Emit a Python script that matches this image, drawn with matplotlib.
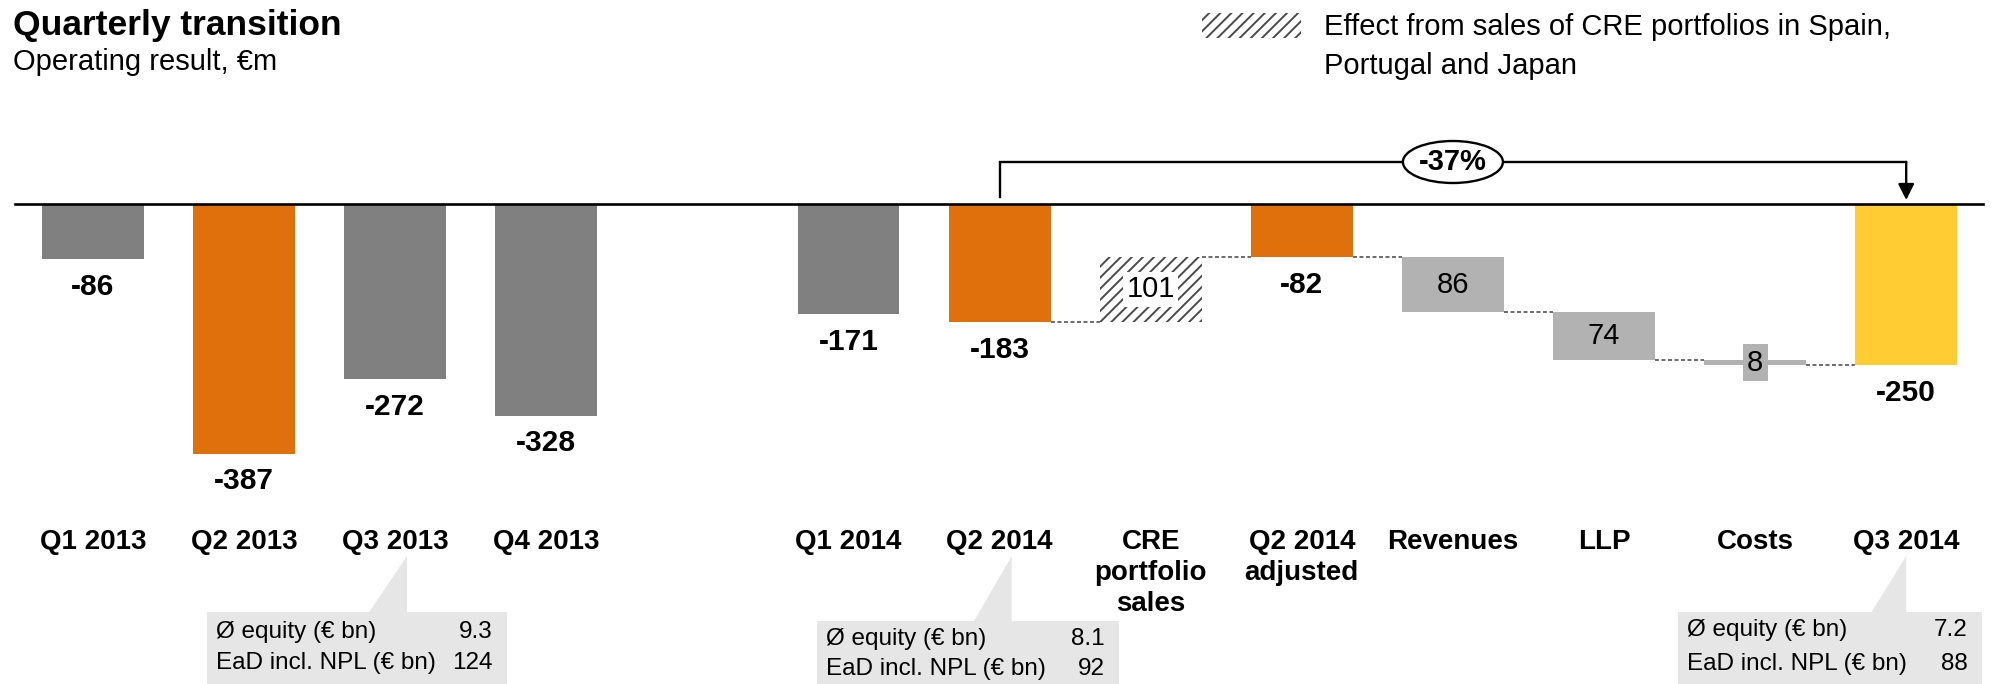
import matplotlib
matplotlib.use("Agg")
import matplotlib.pyplot as plt
from matplotlib.patches import Rectangle, Polygon, Ellipse

plt.rcParams['font.family'] = ['Liberation Sans', 'DejaVu Sans']
plt.rcParams['hatch.linewidth'] = 1.4

# ---------------- data ----------------
quarters = ["Q1 2013", "Q2 2013", "Q3 2013", "Q4 2013", "Q1 2014", "Q2 2014"]
quarter_results = [-86, -387, -272, -328, -171, -183]
cre_label = "CRE\nportfolio\nsales"
cre_effect = 101
adjusted_label = "Q2 2014\nadjusted"
step_labels = ["Revenues", "LLP", "Costs"]
step_changes = [-86, -74, -8]
final_label = "Q3 2014"
change_label = "-37%"
info_anchor = ["Q3 2013", "Q2 2014", "Q3 2014"]
info_equity = [9.3, 8.1, 7.2]
info_ead = [124, 92, 88]
legend_text = ["Effect from sales of CRE portfolios in Spain,", "Portugal and Japan"]

# ---------------- colours / layout ----------------
GRAY = "#808080"
ORANGE = "#E0700B"
YELLOW = "#FFCC33"
LGRAY = "#B2B2B2"
BOXGRAY = "#E6E6E6"
HATCH_EC = "#4A4A4A"
quarter_colors = [GRAY, ORANGE, GRAY, GRAY, GRAY, ORANGE]

W, H = 1996, 684
fig = plt.figure(figsize=(W / 100, H / 100), dpi=100)
ax = fig.add_axes([0, 0, 1, 1])
ax.axis("off")

X0, DX, Y0, SY = 93.0, 151.1, 204.0, 0.645
ax.set_xlim(-X0 / DX, (W - X0) / DX)
ax.set_ylim(-(H - Y0) / SY, Y0 / SY)


def px(p):
    return (p - X0) / DX


def py(p):
    return (Y0 - p) / SY


BW = 0.675
all_labels = quarters + [cre_label, adjusted_label] + step_labels + [final_label]
positions = [0, 1, 2, 3, 5, 6, 7, 8, 9, 10, 11, 12]
pos_of = dict(zip(all_labels, positions))

LBL_OFF = 43  # gap below bar end for value labels (data units)

# quarterly bars
qpos = [pos_of[q] for q in quarters]
ax.bar(qpos, quarter_results, width=BW, color=quarter_colors, linewidth=0, zorder=2)
for x, v in zip(qpos, quarter_results):
    ax.text(x, v - LBL_OFF, f"{v}", ha="center", va="center", fontsize=21.5,
            fontweight="bold", zorder=5)

# CRE portfolio sales (hatched floating bar)
start = quarter_results[-1]
xc = pos_of[cre_label]
ax.bar(xc, cre_effect, bottom=start, width=BW, color="white", edgecolor=HATCH_EC,
       hatch="///", linewidth=0, zorder=2)
ax.text(xc, start + cre_effect / 2, f"{cre_effect}", ha="center", va="center",
        fontsize=21, zorder=5,
        bbox=dict(boxstyle="square,pad=0.12", fc="white", ec="none"))
adjusted = start + cre_effect

# Q2 2014 adjusted
xa = pos_of[adjusted_label]
ax.bar(xa, adjusted, width=BW, color=ORANGE, linewidth=0, zorder=2)
ax.text(xa, adjusted - LBL_OFF, f"{adjusted}", ha="center", va="center", fontsize=21.5,
        fontweight="bold", zorder=5)

# bridge steps
running = adjusted
levels = [(qpos[-1], xc, start), (xc, xa, adjusted), (xa, pos_of[step_labels[0]], adjusted)]
for lbl, ch in zip(step_labels, step_changes):
    x = pos_of[lbl]
    ax.bar(x, ch, bottom=running, width=BW, color=LGRAY, linewidth=0, zorder=2)
    mid = running + ch / 2
    if lbl == "Costs":
        ax.text(x, mid, f"{abs(ch)}", ha="center", va="center", fontsize=21, zorder=5,
                bbox=dict(boxstyle="square,pad=0.15", fc=LGRAY, ec="none"))
    else:
        ax.text(x, mid, f"{abs(ch)}", ha="center", va="center", fontsize=21, zorder=5)
    running += ch
    nxt = all_labels[all_labels.index(lbl) + 1]
    levels.append((x, pos_of[nxt], running))

final = running
xf = pos_of[final_label]
ax.bar(xf, final, width=BW, color=YELLOW, linewidth=0, zorder=2)
ax.text(xf, final - LBL_OFF, f"{final}", ha="center", va="center", fontsize=21.5,
        fontweight="bold", zorder=5)

# dashed connectors
for a, b, lvl in levels:
    ax.plot([a + BW / 2, b - BW / 2], [lvl, lvl], color="#606060", lw=1.3,
            ls=(0, (2.2, 1.4)), zorder=1)

# baseline
ax.plot([px(15), px(1983)], [0, 0], color="black", lw=1.9, zorder=4)

# category labels
for lbl, x in zip(all_labels, positions):
    ax.text(x, py(529), lbl, ha="center", va="top", fontsize=20, fontweight="bold",
            linespacing=1.25)

# bracket with -37%
y_br = py(162)
y_end = py(197)
xl, xr = pos_of[quarters[-1]], pos_of[final_label]
ax.plot([xl, xl, xr], [y_end, y_br, y_br], color="black", lw=1.7, zorder=3,
        solid_joinstyle="miter")
ax.annotate("", xy=(xr, py(200)), xytext=(xr, y_br),
            arrowprops=dict(arrowstyle="-|>", color="black", lw=1.7,
                            mutation_scale=24, shrinkA=0, shrinkB=0), zorder=3)
xm = (xl + xr) / 2
ax.add_patch(Ellipse((xm, y_br), 100 / DX, 42 / SY, fc="white", ec="black", lw=1.7,
                     zorder=4))
ax.text(xm, y_br, change_label, ha="center", va="center", fontsize=21,
        fontweight="bold", zorder=5)

# info boxes (layout per box: left, right offsets, top px, pointer x, pointer base-left, row offsets)
box_layout = [(-1.246, 0.74, 612, 0.078, -0.173, 20, 51),
              (-1.21, 0.79, 621, 0.08, -0.17, 18, 48),
              (-1.51, 0.50, 612, 0.0, -0.23, 18, 52)]
y_bottom = py(H + 5)
for anc, eq, ead, (lo, ro, top, pt, pb, d1, d2) in zip(info_anchor, info_equity, info_ead,
                                                      box_layout):
    c = pos_of[anc]
    left, right = c + lo, c + ro
    ax.add_patch(Rectangle((left, y_bottom), right - left, py(top) - y_bottom,
                           fc=BOXGRAY, ec="none", zorder=1))
    ax.add_patch(Polygon([(c + pb, py(top) - 0.5), (c + pt, py(556)), (c + pt, py(top) - 0.5)],
                         closed=True, fc=BOXGRAY, ec="none", zorder=1))
    r1, r2 = py(top + d1), py(top + d2)
    ax.text(left + 9 / DX, r1, "Ø equity (€ bn)", ha="left", va="center", fontsize=17.5)
    ax.text(left + 9 / DX, r2, "EaD incl. NPL (€ bn)", ha="left", va="center", fontsize=17.5)
    ax.text(right - 14 / DX, r1, f"{eq}", ha="right", va="center", fontsize=17.5)
    ax.text(right - 14 / DX, r2, f"{ead}", ha="right", va="center", fontsize=17.5)

# legend
ax.add_patch(Rectangle((px(1202), py(38)), px(1301) - px(1202), py(13) - py(38),
                       fc="white", ec=HATCH_EC, hatch="///", lw=0, zorder=2))
ax.text(px(1324), py(27), legend_text[0], ha="left", va="center", fontsize=21)
ax.text(px(1324), py(66), legend_text[1], ha="left", va="center", fontsize=21)

# title
fig.text(13 / W, 1 - 25 / H, "Quarterly transition", ha="left", va="center",
         fontsize=25.5, fontweight="bold")
fig.text(13 / W, 1 - 62 / H, "Operating result, €m", ha="left", va="center",
         fontsize=21)

fig.savefig("out.png", dpi=100)
